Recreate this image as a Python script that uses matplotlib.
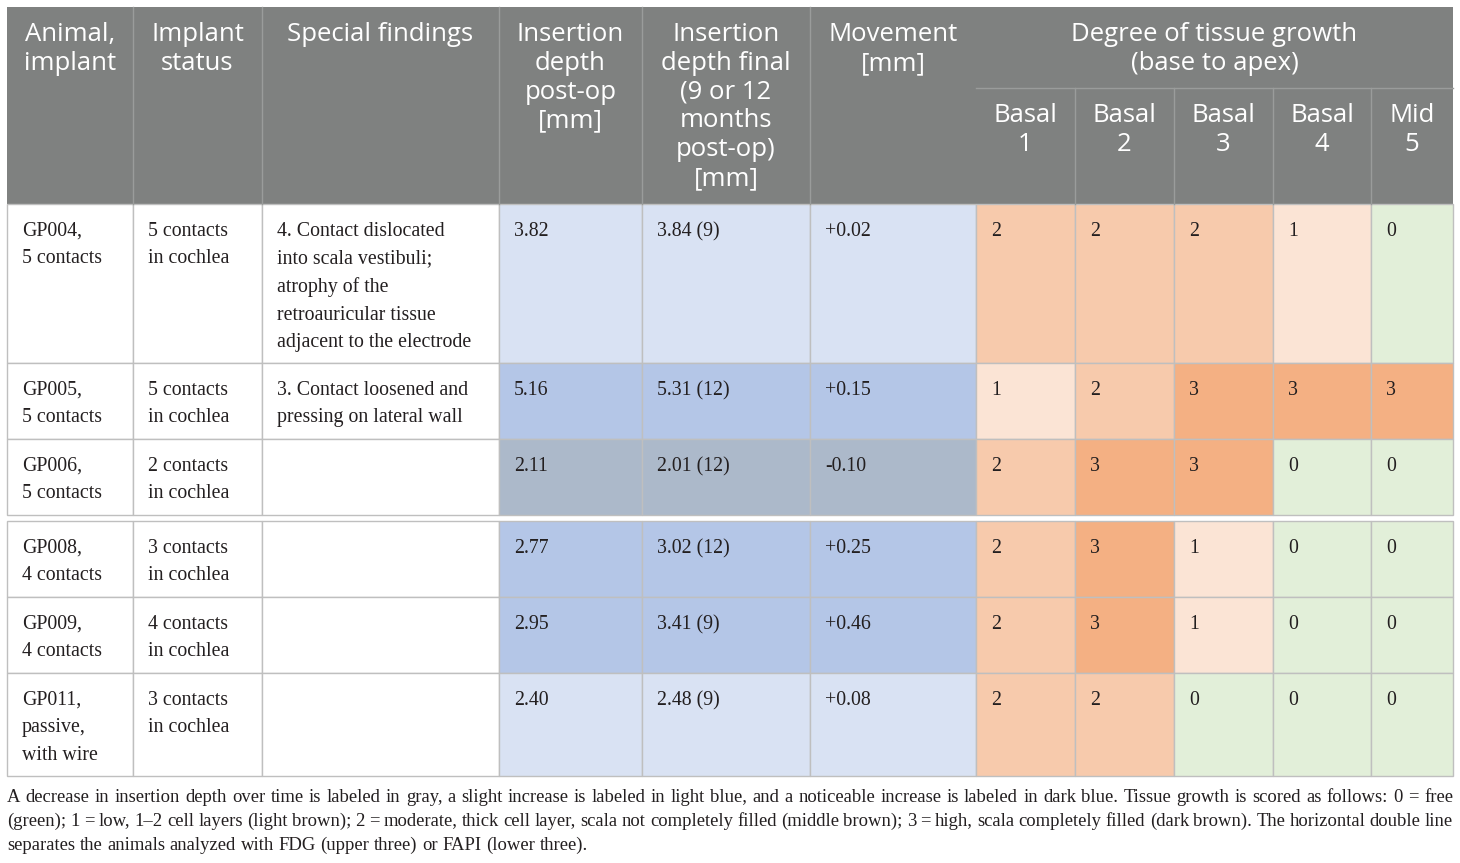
import matplotlib
matplotlib.use("Agg")
import matplotlib.pyplot as plt
from matplotlib.patches import Rectangle

W, H = 1460, 863

# ---- data ----
header_top = ["Animal,\nimplant", "Implant\nstatus", "Special findings",
              "Insertion\ndepth\npost-op\n[mm]",
              "Insertion\ndepth final\n(9 or 12\nmonths\npost-op)\n[mm]",
              "Movement\n[mm]"]
growth_title = "Degree of tissue growth\n(base to apex)"
growth_cols = ["Basal\n1", "Basal\n2", "Basal\n3", "Basal\n4", "Mid\n5"]

animals = ["GP004,\n5 contacts", "GP005,\n5 contacts", "GP006,\n5 contacts",
           "GP008,\n4 contacts", "GP009,\n4 contacts", "GP011,\npassive,\nwith wire"]
status = ["5 contacts\nin cochlea", "5 contacts\nin cochlea", "2 contacts\nin cochlea",
          "3 contacts\nin cochlea", "4 contacts\nin cochlea", "3 contacts\nin cochlea"]
findings = ["4. Contact dislocated\ninto scala vestibuli;\natrophy of the\nretroauricular tissue\nadjacent to the electrode",
            "3. Contact loosened and\npressing on lateral wall", "", "", "", ""]
depth_postop = ["3.82", "5.16", "2.11", "2.77", "2.95", "2.40"]
depth_final = ["3.84 (9)", "5.31 (12)", "2.01 (12)", "3.02 (12)", "3.41 (9)", "2.48 (9)"]
movement = ["+0.02", "+0.15", "-0.10", "+0.25", "+0.46", "+0.08"]
depth_class = ["slight", "noticeable", "decrease", "noticeable", "noticeable", "slight"]
growth = [[2, 2, 2, 1, 0],
          [1, 2, 3, 3, 3],
          [2, 3, 3, 0, 0],
          [2, 3, 1, 0, 0],
          [2, 3, 1, 0, 0],
          [2, 2, 0, 0, 0]]

caption_lines = [
    "A decrease in insertion depth over time is labeled in gray, a slight increase is labeled in light blue, "
    "and a noticeable increase is labeled in dark blue. Tissue growth is scored as follows: 0 = free",
    "(green); 1 = low, 1\u20132 cell layers (light brown); 2 = moderate, thick cell layer, scala not completely "
    "filled (middle brown); 3 = high, scala completely filled (dark brown). The horizontal double line",
    "separates the animals analyzed with FDG (upper three) or FAPI (lower three).",
]

# ---- styling ----
depth_colors = {"decrease": "#acb9ca", "slight": "#d9e2f3", "noticeable": "#b4c6e7"}
growth_colors = {0: "#e2efd9", 1: "#fbe4d5", 2: "#f7caac", 3: "#f4b083"}
head_color = "#7f8180"
head_line = "#9a9c9b"
grid_color = "#bfbfbf"
text_color = "#231f20"

col_x = [7, 133, 262, 499, 642, 810, 976, 1075, 1174, 1273, 1371, 1453]
head_y0, head_mid, head_y1 = 7, 88, 204
row_tops = [204, 363, 439, 521, 597, 673]
row_bots = [363, 439, 515, 597, 673, 776]

fig = plt.figure(figsize=(W / 100, H / 100), dpi=100)
ax = fig.add_axes([0, 0, 1, 1])
ax.set_xlim(0, W)
ax.set_ylim(H, 0)
ax.axis("off")

sans = "Open Sans"
serif = "Liberation Serif"
hfs = 18.5
hls = 1.2
bfs = 14.3

# header background
ax.add_patch(Rectangle((col_x[0], head_y0), col_x[-1] - col_x[0], head_y1 - head_y0,
                       facecolor=head_color, edgecolor="none"))
for i in range(1, 6):
    ax.plot([col_x[i]] * 2, [head_y0, head_y1], color=head_line, lw=1)
ax.plot([col_x[6], col_x[-1]], [head_mid, head_mid], color=head_line, lw=1)
for i in range(7, 11):
    ax.plot([col_x[i]] * 2, [head_mid, head_y1], color=head_line, lw=1)

for i, t in enumerate(header_top):
    ax.text((col_x[i] + col_x[i + 1]) / 2, 22, t, ha="center", va="top", color="white",
            fontsize=hfs, family=sans, linespacing=hls)
ax.text((col_x[6] + col_x[-1]) / 2, 22, growth_title, ha="center", va="top", color="white",
        fontsize=hfs, family=sans, linespacing=hls)
for j, t in enumerate(growth_cols):
    ax.text((col_x[6 + j] + col_x[7 + j]) / 2, 103, t, ha="center", va="top", color="white",
            fontsize=hfs, family=sans, linespacing=hls)

# body cells
for r in range(len(animals)):
    y0, y1 = row_tops[r], row_bots[r]
    fills = ["white", "white", "white"] + [depth_colors[depth_class[r]]] * 3 + \
            [growth_colors[g] for g in growth[r]]
    texts = [animals[r], status[r], findings[r], depth_postop[r], depth_final[r], movement[r]] + \
            [str(g) for g in growth[r]]
    for c in range(11):
        ax.add_patch(Rectangle((col_x[c], y0), col_x[c + 1] - col_x[c], y1 - y0,
                               facecolor=fills[c], edgecolor=grid_color, lw=1))
        if texts[c]:
            ax.text(col_x[c] + 15, y0 + 18, texts[c], ha="left", va="top", color=text_color,
                    fontsize=bfs, family=serif, linespacing=1.6)

# caption: first two lines justified to the table width
fig.canvas.draw()
rend = fig.canvas.get_renderer()
cfs = 13.4
left, right = 7, 1453


def wwidth(w):
    t = ax.text(0, 0, w, fontsize=cfs, family=serif)
    bb = t.get_window_extent(renderer=rend)
    t.remove()
    return bb.width


space_w = wwidth("a a") - 2 * wwidth("a")
for k, line in enumerate(caption_lines):
    y = 797 + k * 24
    words = line.split(" ")
    widths = [wwidth(w) for w in words]
    if k < len(caption_lines) - 1:
        gap = (right - left - sum(widths)) / (len(words) - 1)
    else:
        gap = space_w
    x = left
    for w, ww in zip(words, widths):
        ax.text(x, y, w, ha="left", va="center", fontsize=cfs, family=serif, color=text_color)
        x += ww + gap

fig.savefig("out.png", dpi=100)
